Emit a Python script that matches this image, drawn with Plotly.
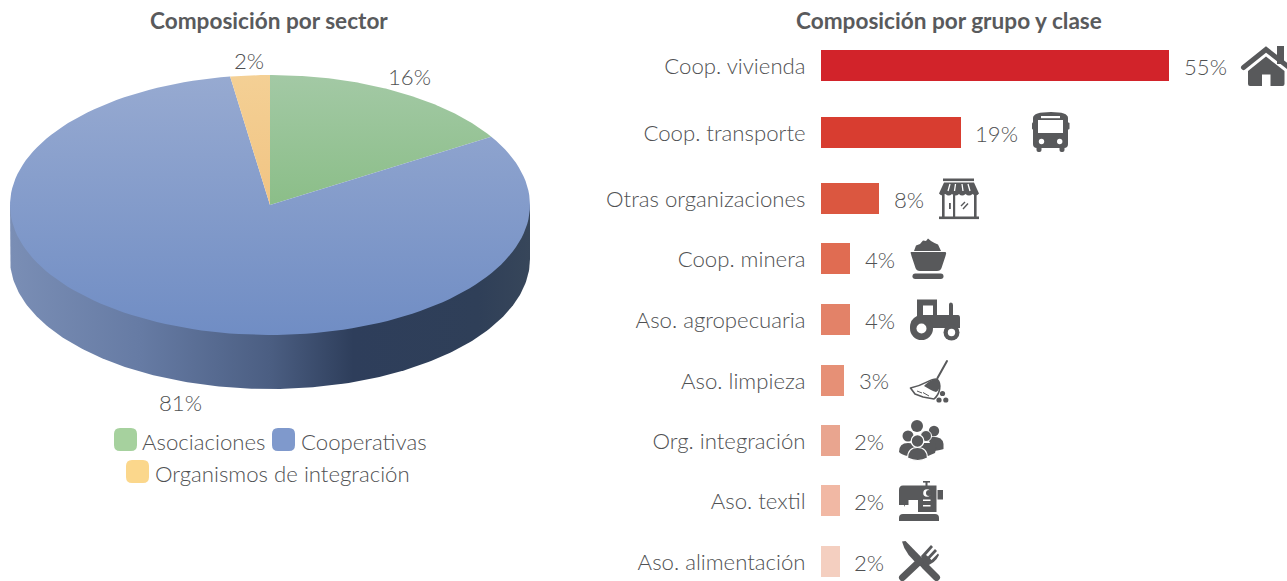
import base64
import numpy as np
import plotly.graph_objects as go

# ---------- data ----------
sector_names = ["Asociaciones", "Cooperativas", "Organismos de integración"]
sector_values = [16.2, 81.35, 2.45]
sector_labels = ["16%", "81%", "2%"]

group_names = ["Coop. vivienda", "Coop. transporte", "Otras organizaciones", "Coop. minera",
               "Aso. agropecuaria", "Aso. limpieza", "Org. integración", "Aso. textil",
               "Aso. alimentación"]
group_labels = ["55%", "19%", "8%", "4%", "4%", "3%", "2%", "2%", "2%"]
# drawn bar lengths (the longest bar is visibly shortened)
group_lengths = [48.0, 19.3, 8.0, 4.0, 4.0, 3.2, 2.6, 2.6, 2.6]
group_colors = ["#D2232A", "#D83D30", "#DB5740", "#E06C52", "#E38268", "#E69076",
                "#E9A58F", "#F1B8A4", "#F4CFC0"]

# ---------- layout constants (page pixels) ----------
W, H = 1287, 581
FONT = "Lato"
SIZE = 22.2
GREY = "#505153"
ICON = "#58595B"
row_y = [65.5, 132.5, 198.5, 258.5, 319.5, 380, 440.5, 500.5, 561.5]
CX, CY, RX, RY, DEPTH = 270, 205, 260, 130, 54
BAR_X0 = 821
PX_PER_UNIT = 7.25

fig = go.Figure()

# pie side wall
t = np.linspace(np.pi, 0, 200)
side_x = np.r_[CX - RX, CX + RX * np.cos(t), CX + RX]
side_y = np.r_[CY, CY + DEPTH + RY * np.sin(t), CY]
fig.add_trace(go.Scatter(
    x=side_x, y=side_y, mode="lines", line=dict(width=0), fill="toself", hoverinfo="skip",
    showlegend=False,
    fillgradient=dict(type="horizontal", start=CX - RX, stop=CX + RX, colorscale=[
        [0, "#7A8EB5"], [0.25, "#667BA4"], [0.5, "#4B5E82"], [0.66, "#2E3E5B"],
        [0.9, "#2F3F58"], [1, "#37465A"]])))

# pie top
slice_fill = [("#A3C9A5", "#8BBE88", CY), ("#97AAD1", "#708DC4", CY + RY), ("#F4D095", "#F1C483", CY)]
edges = np.r_[0, np.cumsum(sector_values)] / sum(sector_values) * 2 * np.pi
for i, name in enumerate(sector_names):
    a = np.linspace(edges[i], edges[i + 1], 140)
    x = np.r_[CX, CX + RX * np.sin(a), CX]
    y = np.r_[CY, CY - RY * np.cos(a), CY]
    c0, c1, stop = slice_fill[i]
    fig.add_trace(go.Scatter(
        x=x, y=y, mode="lines", line=dict(width=0), fill="toself", name=name, showlegend=False,
        hoverinfo="name",
        fillgradient=dict(type="vertical", start=CY - RY, stop=stop, colorscale=[[0, c0], [1, c1]])))

# bars
fig.add_trace(go.Bar(
    x=group_lengths, y=row_y, orientation="h", width=31, marker=dict(color=group_colors, line=dict(width=0)),
    xaxis="x2", yaxis="y2", showlegend=False, customdata=group_labels,
    hovertemplate="%{customdata}<extra></extra>"))

ann = []
def text(x, y, s, size=SIZE, anchor="center", weight=300, color=GREY, xref="x", yref="y", xshift=0):
    ann.append(dict(x=x, y=y, xref=xref, yref=yref, text=s, showarrow=False,
                    xanchor=anchor, yanchor="middle", xshift=xshift,
                    font=dict(family=FONT, size=size, color=color, weight=weight)))

text(269, 20.5, "Composición por sector", weight=700, size=22.6, color="#595A5C")
text(949, 20.5, "Composición por grupo y clase", weight=700, size=22.6, color="#595A5C")
for s, (x, y) in zip(sector_labels, [(409, 76), (180, 402), (249, 60)]):
    text(x, y, s)
for v, y, s in zip(group_lengths, row_y, group_labels):
    text(v, y + 0.5, s, anchor="left", xref="x2", yref="y2", xshift=12.5)

# legend
shapes = []
def swatch(x, y, color, r=6, s=23):
    x1, y1 = x + s, y + s
    shapes.append(dict(type="path", xref="x", yref="y", line=dict(width=0), fillcolor=color, layer="above",
                       path=f"M{x+r},{y} L{x1-r},{y} Q{x1},{y} {x1},{y+r} L{x1},{y1-r} Q{x1},{y1} {x1-r},{y1} "
                            f"L{x+r},{y1} Q{x},{y1} {x},{y1-r} L{x},{y+r} Q{x},{y} {x+r},{y} Z"))

legend_pos = [(114, 428, 140, 441), (272, 428, 299, 441), (126, 460, 153, 473)]
legend_col = ["#A6D19E", "#7F99CC", "#FBD78C"]
for (sx, sy, tx, ty), col, name in zip(legend_pos, legend_col, sector_names):
    swatch(sx, sy, col)
    text(tx, ty, name, anchor="left")

# icons, drawn in page pixel coordinates
C = ICON
icons = {
 "house": (1238, 42, 52, 48, f'''
   <path d="M1277 46h7v18h-7z" fill="{C}"/>
   <path d="M1243.5 67.5 L1266 49.5 L1289 67.5" fill="none" stroke="{C}" stroke-width="5" stroke-linecap="round" stroke-linejoin="miter"/>
   <path d="M1248 71 L1266 56.5 L1284.5 71 V84 Q1284.5 86 1282.5 86 H1270.5 V74.5 H1262 V86 H1250 Q1248 86 1248 84 Z" fill="{C}"/>'''),
 "bus": (1030, 110, 42, 44, f'''
   <path d="M1037 148 H1064 Q1068 148 1068 144 V118 Q1068 112 1051 112 Q1033 112 1033 118 V144 Q1033 148 1037 148 Z" fill="{C}"/>
   <rect x="1032" y="122.5" width="3" height="7" rx="1" fill="{C}"/><rect x="1066.5" y="122.5" width="3" height="7" rx="1" fill="{C}"/>
   <rect x="1036.5" y="146" width="5" height="6" rx="2" fill="{C}"/><rect x="1059.5" y="146" width="5" height="6" rx="2" fill="{C}"/>
   <rect x="1038" y="120" width="25" height="13" fill="#fff"/><rect x="1041" y="116" width="19" height="2.2" fill="#fff"/>
   <circle cx="1041.5" cy="141.5" r="2.7" fill="#fff"/><circle cx="1059.7" cy="141.5" r="2.7" fill="#fff"/>'''),
 "store": (936, 176, 46, 46, f'''
   <rect x="943" y="178.5" width="31" height="2.6" fill="{C}"/>
   <path d="M944 182.5 H974 L979 193.5 Q976 197 972.5 194 Q969 197 965.5 194 Q962 197 959 194 Q955.5 197 952 194 Q948.5 197 945.5 194 Q942 197 939 193.5 Z" fill="{C}"/>
   <path d="M950 184 L948 191 M955.5 184 L954.5 191 M962 184 L963 191 M968 184 L970 191" stroke="#fff" stroke-width="1.3"/>
   <rect x="942" y="195" width="2.6" height="22" fill="{C}"/><rect x="953" y="195" width="2.2" height="22" fill="{C}"/><rect x="974" y="195" width="2.6" height="22" fill="{C}"/>
   <rect x="949" y="203" width="1.8" height="6" fill="{C}"/>
   <path d="M961 206 L965 202 M963 209 L968 203.5" stroke="{C}" stroke-width="1.4"/>
   <rect x="939" y="216.5" width="40" height="2.6" fill="{C}"/>'''),
 "mine": (908, 236, 40, 45, f'''
   <path d="M914 251 L916 245.5 L920 244 L923 240.5 L926 241 L928 238.5 L931 241 L934.5 243 L938 244.5 L941 251 Z" fill="{C}"/>
   <path d="M911 252 H945 Q946.5 252 946 254 L945.5 256 L941.5 268 Q940.5 271 937 271 H920 Q916.5 271 915.5 268 L911.5 256 L911 254 Q910.3 252 911 252 Z" fill="{C}"/>
   <rect x="912.5" y="273.5" width="31" height="5.5" rx="2.7" fill="{C}"/>'''),
 "tractor": (908, 296, 54, 46, f'''
   <path d="M917 299.5 H937 V315 H949 V304.5 Q949 302.5 951 302.5 Q953 302.5 953 305 V315 H958 Q960 315 960 318 V328 H915 L910 328 Q910 319 917 316 Z" fill="{C}"/>
   <rect x="923" y="305.5" width="10" height="9.5" fill="#fff"/>
   <circle cx="921.5" cy="328.5" r="11.5" fill="{C}"/><circle cx="921.5" cy="328.5" r="5" fill="#fff"/>
   <circle cx="951.5" cy="332.5" r="8" fill="{C}"/><circle cx="951.5" cy="332.5" r="3.7" fill="#fff"/>'''),
 "broom": (906, 358, 44, 46, f'''
   <path d="M947 361 L937.5 378" stroke="{C}" stroke-width="2" stroke-linecap="round"/>
   <path d="M937 379 C930 378 926 385 910.5 388 L915 394 L923 397 L934 399 C940 394 942 384 937 379 Z" fill="#fff" stroke="{C}" stroke-width="1.6" stroke-linejoin="round"/>
   <path d="M924 386 C928 382 932 379 937 379 C941 383 940 391 936 392 C932 391 928 388 924 386 Z" fill="{C}"/>
   <path d="M917 391 L922 393 M923 392.5 L929 396" stroke="{C}" stroke-width="1"/>
   <circle cx="942.5" cy="393.5" r="2.6" fill="{C}"/><circle cx="939" cy="400" r="2.6" fill="{C}"/><circle cx="945.8" cy="400" r="2.6" fill="{C}"/>'''),
 "people": (896, 418, 50, 45, f'''
   <circle cx="917" cy="426" r="6" fill="{C}"/>
   <circle cx="934" cy="431" r="5.2" fill="{C}"/>
   <path d="M927 437 Q943 435 943.5 444 L943.5 449 Q941 450 934 451 Z" fill="{C}"/>
   <circle cx="908" cy="436" r="5.5" fill="{C}"/>
   <circle cx="926" cy="436" r="5.5" fill="{C}" stroke="#fff" stroke-width="1"/>
   <path d="M899 452 Q899 443 908 443 Q914 443 914 446 L908 456 Q902 455 899 452 Z" fill="{C}"/>
   <path d="M915 443 H935 Q937 447 935 453 L928 456 H910 Z" fill="{C}"/>
   <circle cx="917.5" cy="441" r="6.3" fill="{C}" stroke="#fff" stroke-width="1.2"/>
   <path d="M907.5 458 Q908 447.5 917.5 447.5 Q927 447.5 927.5 458 Q918 463 907.5 458 Z" fill="{C}" stroke="#fff" stroke-width="1.2"/>'''),
 "sewing": (896, 478, 50, 46, f'''
   <path d="M899 490 Q899 485.5 903 485.5 H936.5 V512 H918 V500 H908.5 V505 H905 L904.5 507 L904 505 H899 Z" fill="{C}"/>
   <rect x="923" y="481" width="7" height="1.6" fill="{C}"/><rect x="925.5" y="481" width="2" height="6" fill="{C}"/>
   <rect x="937.5" y="490" width="5.5" height="9.5" fill="{C}"/>
   <circle cx="927" cy="493" r="3.8" fill="#fff"/><circle cx="929" cy="493" r="3" fill="{C}"/>
   <rect x="923" y="499.5" width="7.5" height="1.5" fill="#fff"/><rect x="923" y="505" width="7.5" height="1.5" fill="#fff"/>
   <path d="M899 521 V518 Q899 514 903 514 H935 Q939 514 939 518 V521 Z" fill="{C}"/>'''),
 "cutlery": (896, 538, 48, 43, f'''
   <path d="M902 541.5 L905.5 541 L927 563 L922 567.5 Q905 555 902 541.5 Z" fill="{C}"/>
   <path d="M925 566 L936.5 577.5" stroke="{C}" stroke-width="7" stroke-linecap="round"/>
   <path d="M902.5 577.5 L920 561" stroke="{C}" stroke-width="7" stroke-linecap="round"/>
   <path d="M921 556 L931 545 L933 547 L926 555 L928 556.5 L935 549 L937 551 L930 558.5 L931.5 560 L938 553.5 L939 555 Q935 564 925 566 Z" fill="{C}"/>'''),
}
images = []
for name, (x, y, w, h, inner) in icons.items():
    svg = (f'<svg xmlns="http://www.w3.org/2000/svg" width="{w*4}" height="{h*4}" viewBox="{x} {y} {w} {h}">{inner}</svg>')
    images.append(dict(source="data:image/svg+xml;base64," + base64.b64encode(svg.encode()).decode(),
                       xref="x", yref="y", x=x, y=y, sizex=w, sizey=h, xanchor="left", yanchor="top",
                       sizing="stretch", layer="above"))

fig.update_layout(
    width=W, height=H, margin=dict(l=0, r=0, t=0, b=0), paper_bgcolor="white", plot_bgcolor="white",
    showlegend=False, bargap=0, annotations=ann, shapes=shapes, images=images,
    font=dict(family=FONT, size=SIZE, color=GREY),
    xaxis=dict(domain=[0, 1], range=[0, W], visible=False, fixedrange=True),
    yaxis=dict(domain=[0, 1], range=[H, 0], visible=False, fixedrange=True),
    xaxis2=dict(domain=[BAR_X0 / W, 1], range=[0, (W - BAR_X0) / PX_PER_UNIT], visible=False, fixedrange=True,
                anchor="y2"),
    yaxis2=dict(domain=[0, 1], range=[H, 0], anchor="x2", fixedrange=True, showgrid=False, zeroline=False,
                showline=False, tickmode="array", tickvals=[y + 1 for y in row_y], ticktext=group_names,
                ticks="outside", ticklen=10, tickcolor="rgba(0,0,0,0)",
                tickfont=dict(family=FONT, size=SIZE, color=GREY, weight=300)),
)

fig.write_html("out.html", config={"displayModeBar": False},
               post_script="document.body.style.margin='0';document.body.style.overflow='hidden';")
